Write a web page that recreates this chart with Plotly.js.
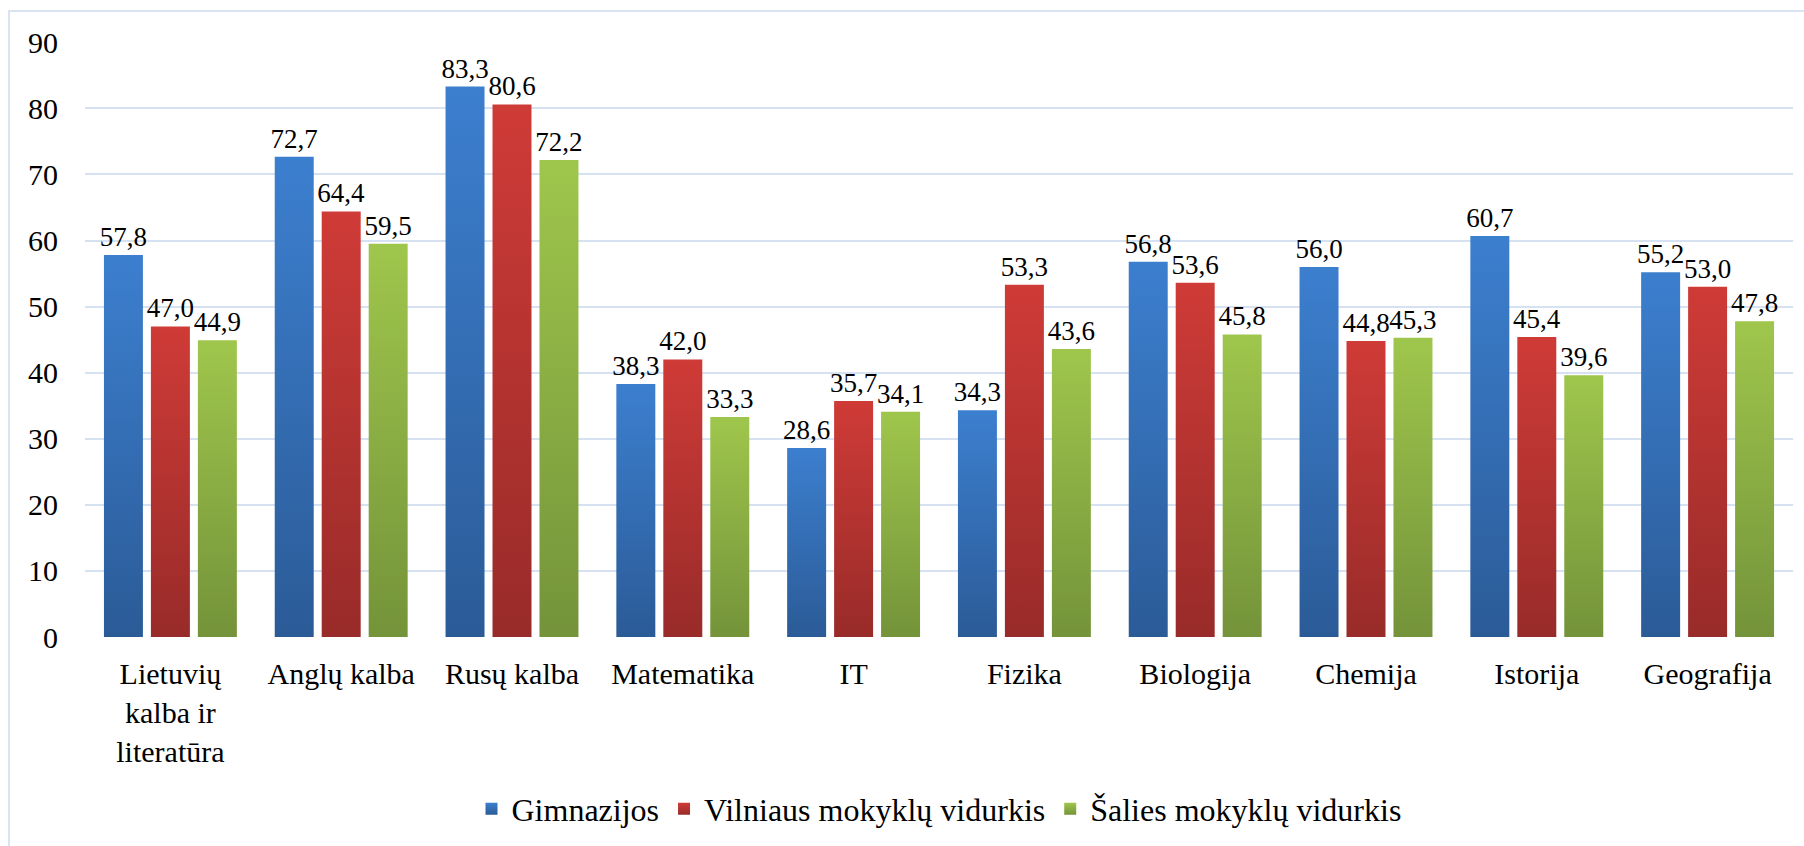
<!DOCTYPE html>
<html>
<head>
<meta charset="utf-8">
<script src="https://cdn.plot.ly/plotly-3.0.1.min.js"></script>
<style>
  html, body { margin: 0; padding: 0; background: #fff; overflow: hidden; }
  #chart { position: absolute; left: 0; top: 0; width: 1804px; height: 846px; }
  #frame { position: absolute; left: 8px; top: 10px; width: 1830px; height: 870px;
           border: 2px solid #d9e3f2; pointer-events: none; }
</style>
</head>
<body>
<div id="chart"></div>
<div id="frame"></div>
<script>
// subjects on the x axis
const subjects = [
  'Lietuvių<br>kalba ir<br>literatūra', 'Anglų kalba', 'Rusų kalba', 'Matematika', 'IT',
  'Fizika', 'Biologija', 'Chemija', 'Istorija', 'Geografija'
];
const seriesNames = ['Gimnazijos', 'Vilniaus mokyklų vidurkis', 'Šalies mokyklų vidurkis'];

const gimnazijos = [57.8, 72.7, 83.3, 38.3, 28.6, 34.3, 56.8, 56.0, 60.7, 55.2];
const vilnius = [47.0, 64.4, 80.6, 42.0, 35.7, 53.3, 53.6, 44.8, 45.4, 53.0];
const salis = [44.9, 59.5, 72.2, 33.3, 34.1, 43.6, 45.8, 45.3, 39.6, 47.8];

const yTicks = [0, 10, 20, 30, 40, 50, 60, 70, 80, 90];

// top / bottom colours of the bar gradients
const colors = [
  ['#3c7fcf', '#2b5b97'],
  ['#cf3b37', '#982b29'],
  ['#9fc64c', '#74933a']
];

const font = 'serif';

function makeTrace (name, values, i) {
  return {
    type: 'bar',
    name,
    x: subjects,
    y: values,
    marker: { color: colors[i][0] },
    texttemplate: '%{y:.1f}',
    textposition: 'outside',
    constraintext: 'none',
    cliponaxis: false,
    textfont: { family: font, size: 27, color: '#000' },
    hoverinfo: 'none'
  };
}

const data = [
  makeTrace(seriesNames[0], gimnazijos, 0),
  makeTrace(seriesNames[1], vilnius, 1),
  makeTrace(seriesNames[2], salis, 2)
];

const layout = {
  width: 1804,
  height: 846,
  margin: { l: 85, r: 11, t: 42, b: 208 },
  paper_bgcolor: 'rgba(0,0,0,0)',
  plot_bgcolor: 'rgba(0,0,0,0)',
  separators: ', ',
  font: { family: font, color: '#000' },
  barmode: 'group',
  bargap: 0.175,
  bargroupgap: 0.17,
  showlegend: true,
  legend: {
    orientation: 'h',
    x: 0.5, xanchor: 'center',
    y: -0.287, yanchor: 'middle',
    font: { family: font, size: 32, color: '#000' },
    itemwidth: 30,
    traceorder: 'normal'
  },
  xaxis: {
    showgrid: false,
    showline: false,
    zeroline: false,
    ticks: '',
    tickangle: 0,
    ticklabelstandoff: 16,
    tickfont: { family: font, size: 30, color: '#000' }
  },
  yaxis: {
    range: [0, 90.05],
    tickvals: yTicks,
    ticks: '',
    showline: false,
    zeroline: false,
    showgrid: true,
    gridcolor: '#d6e2f2',
    gridwidth: 2,
    ticklabelstandoff: 26,
    tickfont: { family: font, size: 30, color: '#000' }
  }
};

Plotly.newPlot('chart', data, layout, { displayModeBar: false, staticPlot: true }).then(gd => {
  // make sure every label really comes out in the Times-like face
  gd.querySelectorAll('text').forEach(t => { t.style.fontFamily = "'Liberation Serif', 'Times New Roman', serif"; });

  // vertical gradient fill per bar, like the original spreadsheet chart
  const svgNS = 'http://www.w3.org/2000/svg';
  const svg = gd.querySelector('svg.main-svg');
  const defs = svg.querySelector('defs') || svg.insertBefore(document.createElementNS(svgNS, 'defs'), svg.firstChild);
  colors.forEach((c, i) => {
    const g = document.createElementNS(svgNS, 'linearGradient');
    g.setAttribute('id', 'bargrad' + i);
    g.setAttribute('x1', '0'); g.setAttribute('y1', '0');
    g.setAttribute('x2', '0'); g.setAttribute('y2', '1');
    [[0, c[0]], [1, c[1]]].forEach(([o, col]) => {
      const s = document.createElementNS(svgNS, 'stop');
      s.setAttribute('offset', o);
      s.setAttribute('stop-color', col);
      g.appendChild(s);
    });
    defs.appendChild(g);
  });
  gd.querySelectorAll('.barlayer .trace.bars').forEach((t, i) => {
    t.querySelectorAll('path').forEach(p => { p.style.fill = 'url(#bargrad' + i + ')'; });
  });
  gd.querySelectorAll('.legend .traces').forEach((t, i) => {
    t.querySelectorAll('.legendpoints path').forEach(p => { p.style.fill = 'url(#bargrad' + i + ')'; });
  });
});
</script>
</body>
</html>
